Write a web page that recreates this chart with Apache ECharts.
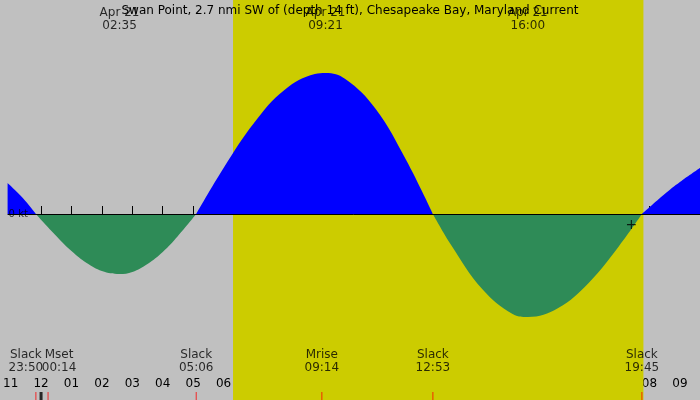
<!DOCTYPE html>
<html><head><meta charset="utf-8">
<script src="https://cdn.jsdelivr.net/npm/echarts@6/dist/echarts.min.js"></script>
<style>html,body{margin:0;padding:0;background:#c0c0c0}#c{width:700px;height:400px}</style>
</head><body><div id="c"></div>
<script>
// hours since midnight Apr 21, current in knots
var flood1 = [[-1.1,0.31],[-0.6,0.16],[-0.17,0]];
var ebb1 = [[-0.17,0],[0.5,-0.22],[1,-0.37],[1.5,-0.49],[2,-0.57],[2.58,-0.6],[3,-0.58],[3.5,-0.5],[4,-0.38],[4.5,-0.22],[5.1,0]];
var flood2 = [[5.1,0],[6,0.46],[7,0.91],[8,1.24],[9,1.4],[9.35,1.41],[10,1.35],[11,1.05],[12,0.54],[12.88,0]];
var ebb2 = [[12.88,0],[13.5,-0.32],[14.5,-0.75],[15.5,-1.0],[16,-1.03],[17,-0.94],[18,-0.69],[19,-0.32],[19.75,0]];
var flood3 = [[19.75,0],[20.5,0.2],[21,0.32],[21.66,0.46]];
var hourTicks = [-1,0,1,2,3,4,5,6,7,8,9,10,11,12,13,14,15,16,17,18,19,20,21];
var topEvents = [[2.58,'Apr 21\n02:35'],[9.35,'Apr 21\n09:21'],[16.0,'Apr 21\n16:00']];
var bottomEvents = [[-0.17,'Slack\n23:50',-10],[0.23,'Mset\n00:14',11],[5.1,'Slack\n05:06',0],[9.23,'Mrise\n09:14',0],[12.88,'Slack\n12:53',0],[19.75,'Slack\n19:45',0]];
var daylight = [6.31, 19.8];

var Y_MIN = -1.86, Y_MAX = 2.14;
function seg(d, color){
  return {type:'line', data:d, smooth:0.4, showSymbol:false, silent:true,
    lineStyle:{width:0}, areaStyle:{color:color, opacity:1, origin:0}, z:3};
}
var chart = echarts.init(document.getElementById('c'));
chart.setOption({
  backgroundColor:'#c0c0c0',
  animation:false,
  title:{text:'Swan Point, 2.7 nmi SW of (depth 14 ft), Chesapeake Bay, Maryland Current',
    left:'center', top:0, textStyle:{fontSize:12, fontWeight:'normal', color:'#000', fontFamily:'DejaVu Sans'}},
  grid:{left:0,right:0,top:0,bottom:0},
  xAxis:{type:'value', min:-1.1, max:21.66, splitLine:{show:false}, axisLine:{show:false},
    axisTick:{inside:true, length:8, lineStyle:{color:'#000'}, customValues:hourTicks},
    axisLabel:{inside:true, margin:10, color:'#000', fontSize:12, fontFamily:'DejaVu Sans', customValues:hourTicks,
      formatter:function(v){var h=((Math.round(v)%12)+12)%12; if(h===0)h=12; return (h<10?'0':'')+h;}}},
  yAxis:{type:'value', min:Y_MIN, max:Y_MAX, show:false},
  series:[
    {type:'line', data:[], markArea:{silent:true, itemStyle:{color:'#cccc00'}, data:[[{xAxis:daylight[0]},{xAxis:daylight[1]}]]}, z:1},
    seg(flood1,'#0000ff'), seg(ebb1,'#2e8b57'), seg(flood2,'#0000ff'), seg(ebb2,'#2e8b57'), seg(flood3,'#0000ff'),
    {type:'line', data:[], z:4, markLine:{silent:true, symbol:'none', label:{show:false},
      lineStyle:{color:'#000', width:1, type:'solid'}, data:[{yAxis:0}]}},
    {type:'scatter', z:5, symbol:'rect', symbolSize:[1,8], symbolOffset:[0,-4], itemStyle:{color:'#ff0000'},
      data:bottomEvents.map(function(e){return [e[0], Y_MIN];})},
    {type:'scatter', z:6, symbol:'rect', symbolSize:[3,8], symbolOffset:[0,-4], itemStyle:{color:'#000'}, data:[[0, Y_MIN]]},
    {type:'scatter', z:6, symbolSize:0, data:topEvents.map(function(e){return {value:[e[0],1.95], name:e[1]};}),
      label:{show:true, position:'inside', formatter:'{b}', color:'#000', fontSize:12, lineHeight:13, fontFamily:'DejaVu Sans'}},
    {type:'scatter', z:6, symbolSize:0, data:bottomEvents.map(function(e){return {value:[e[0],-1.47], name:e[1], label:{offset:[e[2],0]}};}),
      label:{show:true, position:'inside', formatter:'{b}', color:'#000', fontSize:12, lineHeight:13, fontFamily:'DejaVu Sans'}},
    {type:'scatter', z:6, symbolSize:0, data:[{value:[-1.1,0], name:'0 kt'}],
      label:{show:true, position:'right', offset:[-4,0], formatter:'{b}', color:'#000', fontSize:10, fontFamily:'DejaVu Sans'}},
    {type:'scatter', z:6, symbolSize:0, data:[{value:[19.4,-0.11], name:'+'}],
      label:{show:true, position:'inside', formatter:'{b}', color:'#000', fontSize:14, fontFamily:'DejaVu Sans'}}
  ]
});
</script></body></html>
